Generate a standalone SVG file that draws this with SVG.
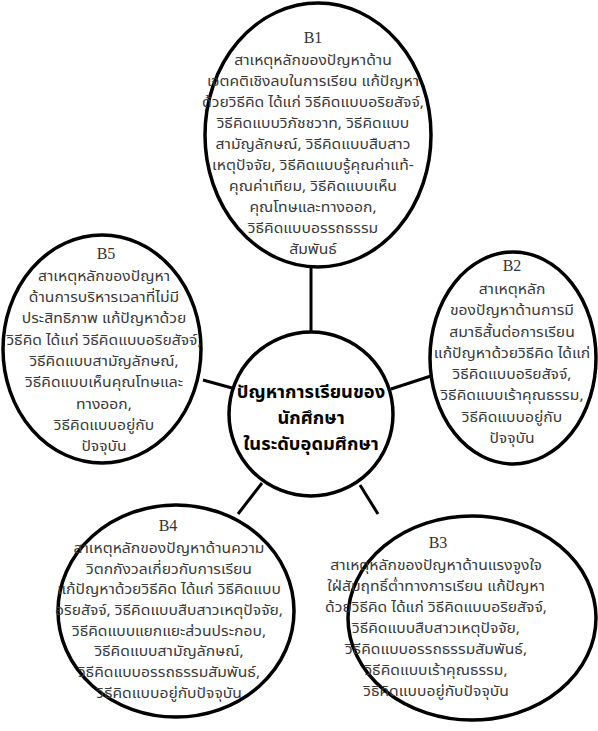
<svg xmlns="http://www.w3.org/2000/svg" width="598" height="731" viewBox="0 0 598 731">
<style>
.node{fill:#fff;stroke:#000;stroke-width:3.5}
.conn{stroke:#000;stroke-width:3;fill:none}
.lbl{font-family:"Liberation Serif",serif;font-size:16px;fill:#333;text-anchor:middle}
.t{font-family:"Noto Sans Thai","Noto Sans","DejaVu Sans",sans-serif;font-size:14px;fill:#3a3a3a;text-anchor:middle}
.c{font-family:"Noto Sans Thai","Noto Sans","DejaVu Sans",sans-serif;font-size:17px;font-weight:bold;fill:#000;text-anchor:middle}
</style>
<rect width="598" height="731" fill="#fff"/>
<g id="connectors">
<line class="conn" x1="311" y1="263" x2="311" y2="332"/>
<line class="conn" x1="391" y1="389" x2="434" y2="375"/>
<line class="conn" x1="203" y1="380" x2="232" y2="388"/>
<line class="conn" x1="262" y1="483" x2="238" y2="514"/>
<line class="conn" x1="360" y1="485" x2="378" y2="514"/>
</g>
<g id="B1">
<ellipse class="node" cx="318" cy="135" rx="113" ry="132"/>
<text class="lbl" x="313" y="43">B1</text>
<g transform="translate(313 0) scale(1.12 1)">
<text class="t" x="0" y="65">สาเหตุหลักของปัญหาด้าน</text>
<text class="t" x="0" y="86">เจตคติเชิงลบในการเรียน แก้ปัญหา</text>
<text class="t" x="0" y="107">ด้วยวิธีคิด ได้แก่ วิธีคิดแบบอริยสัจจ์,</text>
<text class="t" x="0" y="128">วิธีคิดแบบวิภัชชวาท, วิธีคิดแบบ</text>
<text class="t" x="0" y="149">สามัญลักษณ์, วิธีคิดแบบสืบสาว</text>
<text class="t" x="0" y="170">เหตุปัจจัย, วิธีคิดแบบรู้คุณค่าแท้-</text>
<text class="t" x="0" y="191">คุณค่าเทียม, วิธีคิดแบบเห็น</text>
<text class="t" x="0" y="212">คุณโทษและทางออก,</text>
<text class="t" x="0" y="233">วิธีคิดแบบอรรถธรรม</text>
<text class="t" x="0" y="254">สัมพันธ์</text>
</g>
</g>
<g id="B2">
<ellipse class="node" cx="513" cy="358" rx="83" ry="106"/>
<text class="lbl" x="512" y="271">B2</text>
<g transform="translate(512 0) scale(1.12 1)">
<text class="t" x="0" y="294">สาเหตุหลัก</text>
<text class="t" x="0" y="315.3">ของปัญหาด้านการมี</text>
<text class="t" x="0" y="336.6">สมาธิสั้นต่อการเรียน</text>
<text class="t" x="0" y="357.9">แก้ปัญหาด้วยวิธีคิด ได้แก่</text>
<text class="t" x="0" y="379.2">วิธีคิดแบบอริยสัจจ์,</text>
<text class="t" x="0" y="400.5">วิธีคิดแบบเร้าคุณธรรม,</text>
<text class="t" x="0" y="421.8">วิธีคิดแบบอยู่กับ</text>
<text class="t" x="0" y="443.1">ปัจจุบัน</text>
</g>
</g>
<g id="B3">
<ellipse class="node" cx="472" cy="618" rx="124" ry="102"/>
<text class="lbl" x="438" y="548">B3</text>
<g transform="translate(436 0) scale(1.12 1)">
<text class="t" x="0" y="570">สาเหตุหลักของปัญหาด้านแรงจูงใจ</text>
<text class="t" x="0" y="591">ใฝ่สัมฤทธิ์ต่ำทางการเรียน แก้ปัญหา</text>
<text class="t" x="0" y="612">ด้วยวิธีคิด ได้แก่ วิธีคิดแบบอริยสัจจ์,</text>
<text class="t" x="0" y="633">วิธีคิดแบบสืบสาวเหตุปัจจัย,</text>
<text class="t" x="0" y="654">วิธีคิดแบบอรรถธรรมสัมพันธ์,</text>
<text class="t" x="0" y="675">วิธีคิดแบบเร้าคุณธรรม,</text>
<text class="t" x="0" y="696">วิธีคิดแบบอยู่กับปัจจุบัน</text>
</g>
</g>
<g id="B4">
<ellipse class="node" cx="176" cy="611" rx="118" ry="106"/>
<text class="lbl" x="168" y="531">B4</text>
<g transform="translate(169 0) scale(1.12 1)">
<text class="t" x="0" y="553">สาเหตุหลักของปัญหาด้านความ</text>
<text class="t" x="0" y="573.7">วิตกกังวลเกี่ยวกับการเรียน</text>
<text class="t" x="0" y="594.4">แก้ปัญหาด้วยวิธีคิด ได้แก่ วิธีคิดแบบ</text>
<text class="t" x="0" y="615.1">อริยสัจจ์, วิธีคิดแบบสืบสาวเหตุปัจจัย,</text>
<text class="t" x="0" y="635.8">วิธีคิดแบบแยกแยะส่วนประกอบ,</text>
<text class="t" x="0" y="656.5">วิธีคิดแบบสามัญลักษณ์,</text>
<text class="t" x="0" y="677.2">วิธีคิดแบบอรรถธรรมสัมพันธ์,</text>
<text class="t" x="0" y="697.9">วิธีคิดแบบอยู่กับปัจจุบัน</text>
</g>
</g>
<g id="B5">
<ellipse class="node" cx="102" cy="349" rx="99" ry="114"/>
<text class="lbl" x="106" y="259">B5</text>
<g transform="translate(104 0) scale(1.12 1)">
<text class="t" x="0" y="281">สาเหตุหลักของปัญหา</text>
<text class="t" x="0" y="302.25">ด้านการบริหารเวลาที่ไม่มี</text>
<text class="t" x="0" y="323.5">ประสิทธิภาพ แก้ปัญหาด้วย</text>
<text class="t" x="0" y="344.75">วิธีคิด ได้แก่ วิธีคิดแบบอริยสัจจ์,</text>
<text class="t" x="0" y="366">วิธีคิดแบบสามัญลักษณ์,</text>
<text class="t" x="0" y="387.25">วิธีคิดแบบเห็นคุณโทษและ</text>
<text class="t" x="0" y="408.5">ทางออก,</text>
<text class="t" x="0" y="429.75">วิธีคิดแบบอยู่กับ</text>
<text class="t" x="0" y="451">ปัจจุบัน</text>
</g>
</g>
<g id="center">
<circle class="node" cx="311" cy="414" r="82"/>
<g transform="translate(311 0) scale(1.08 1)">
<text class="c" x="0" y="398">ปัญหาการเรียนของ</text>
<text class="c" x="0" y="424">นักศึกษา</text>
<text class="c" x="0" y="450">ในระดับอุดมศึกษา</text>
</g>
</g>
</svg>
